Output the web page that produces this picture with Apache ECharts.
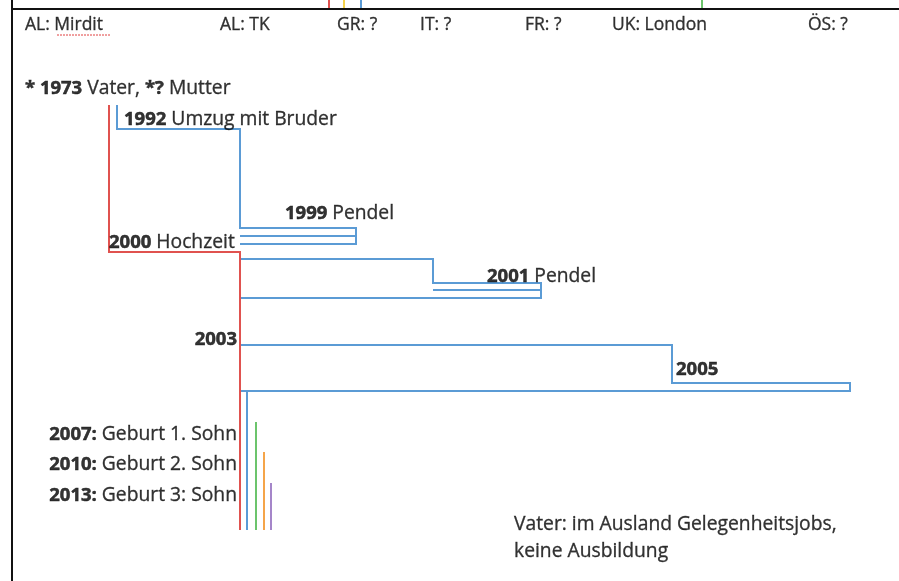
<!DOCTYPE html>
<html>
<head>
<meta charset="utf-8">
<script src="https://cdn.jsdelivr.net/npm/echarts@6/dist/echarts.min.js"></script>
<style>html,body{margin:0;padding:0;background:#fff}#c{width:899px;height:581px}</style>
</head>
<body>
<div id="c"></div>
<script>
// Column headings (country / place) and their diagram x-positions
const places = ["AL: Mirdit", "AL: TK", "GR: ?", "IT: ?", "FR: ?", "UK: London", "ÖS: ?"];
const placeLabelX = [25, 220, 337, 420, 525, 612, 808];

// Paths (diagram units: x = place column, y = time row)
const motherPath = [[109,105],[109,252],[240,252],[240,530]];
const fatherPaths = [
  [[117,105],[117,129],[240,129],[240,228],[356,228],[356,244],[240,244]],
  [[240,236],[356,236]],
  [[240,259],[433,259],[433,283],[541,283],[541,298],[240,298]],
  [[433,290],[541,290]],
  [[240,345],[672,345],[672,383],[850,383],[850,391],[241,391]],
  [[247,391],[247,530]]
];
const son1Path = [[256,422],[256,530]];
const son2Path = [[264,452],[264,530]];
const son3Path = [[271,483],[271,530]];

// Top stubs continuing from the previous page
const stubs = [
  {x:329, color:"#e0524f"},
  {x:344, color:"#f5d24a"},
  {x:361, color:"#5b9bd5"},
  {x:702, color:"#6cc46c"}
];

// Event annotations: [x, y, bold, normal, bold, normal, align]
const events = [
  [25, 89, "* 1973", " Vater, ", "*?", " Mutter", "left"],
  [124, 120, "1992", " Umzug mit Bruder", "", "", "left"],
  [285, 214, "1999", " Pendel", "", "", "left"],
  [109, 243, "2000", " Hochzeit", "", "", "left"],
  [487, 277, "2001", " Pendel", "", "", "left"],
  [237, 340, "2003", "", "", "", "right"],
  [676, 370, "2005", "", "", "", "left"],
  [237, 435, "2007:", " Geburt 1. Sohn", "", "", "right"],
  [237, 465, "2010:", " Geburt 2. Sohn", "", "", "right"],
  [237, 496, "2013:", " Geburt 3: Sohn", "", "", "right"],
  [514, 525, "", "Vater: im Ausland Gelegenheitsjobs,", "", "", "left"],
  [514, 552, "", "keine Ausbildung", "", "", "left"]
];

const FONT = "Open Sans";
const TXT = "#000";

function linesSeries(paths, color, width, z, type) {
  return {
    type: "lines", coordinateSystem: "cartesian2d", polyline: true, silent: true, z: z,
    lineStyle: {color: color, width: width, opacity: 1, type: type || "solid", cap: "butt", join: "miter"},
    data: paths.map(p => ({coords: p}))
  };
}

const series = [];
// frame
series.push(linesSeries([[[12,9],[899,9]], [[12,0],[12,581]]], "#111", 2, 5));
// stubs
stubs.forEach(s => series.push(linesSeries([[[s.x,0],[s.x,8]]], s.color, 2, 4)));
// father (blue) then mother (red) on top
series.push(linesSeries(fatherPaths, "#5b9bd5", 2, 3));
series.push(linesSeries([motherPath], "#e0524f", 2, 4));
series.push(linesSeries([son1Path], "#6cc46c", 2, 4));
series.push(linesSeries([son2Path], "#f5a54a", 2, 4));
series.push(linesSeries([son3Path], "#a586c9", 2, 4));
// spellcheck underline under "Mirdit"
series.push(linesSeries([[[57,35],[110,35]]], "#e04040", 1, 4, [2,1]));

const rich = {
  b: {fontFamily: FONT, fontWeight: "bold", fontSize: 18.5, color: TXT, textBorderColor: "#000", textBorderWidth: 0.5},
  n: {fontFamily: FONT, fontWeight: "normal", fontSize: 19.3, color: TXT, textBorderColor: "#222", textBorderWidth: 0.35},
  h: {fontFamily: FONT, fontWeight: "normal", fontSize: 17.5, color: TXT, textBorderColor: "#222", textBorderWidth: 0.35}
};

// place headings
series.push({
  type: "scatter", symbolSize: 0, silent: true, z: 6,
  data: places.map((p, i) => ({value: [placeLabelX[i], 25], name: p})),
  label: {show: true, position: "inside", align: "left", verticalAlign: "middle",
    formatter: p => "{h|" + p.name + "}", rich: rich}
});

// events
series.push({
  type: "scatter", symbolSize: 0, silent: true, z: 6,
  data: events.map(e => ({value: [e[0], e[1]], label: {align: e[6]}})),
  label: {show: true, position: "inside", verticalAlign: "middle", rich: rich,
    formatter: p => {
      const e = events[p.dataIndex];
      let s = "";
      if (e[2]) s += "{b|" + e[2] + "}";
      if (e[3]) s += "{n|" + e[3] + "}";
      if (e[4]) s += "{b|" + e[4] + "}";
      if (e[5]) s += "{n|" + e[5] + "}";
      return s;
    }}
});

const chart = echarts.init(document.getElementById("c"), null, {renderer: "canvas"});
chart.setOption({
  animation: false,
  backgroundColor: "#fff",
  grid: {left: 0, right: 0, top: 0, bottom: 0},
  xAxis: {type: "value", min: 0, max: 899, show: false},
  yAxis: {type: "value", min: 0, max: 581, inverse: true, show: false},
  series: series
});
</script>
</body>
</html>
